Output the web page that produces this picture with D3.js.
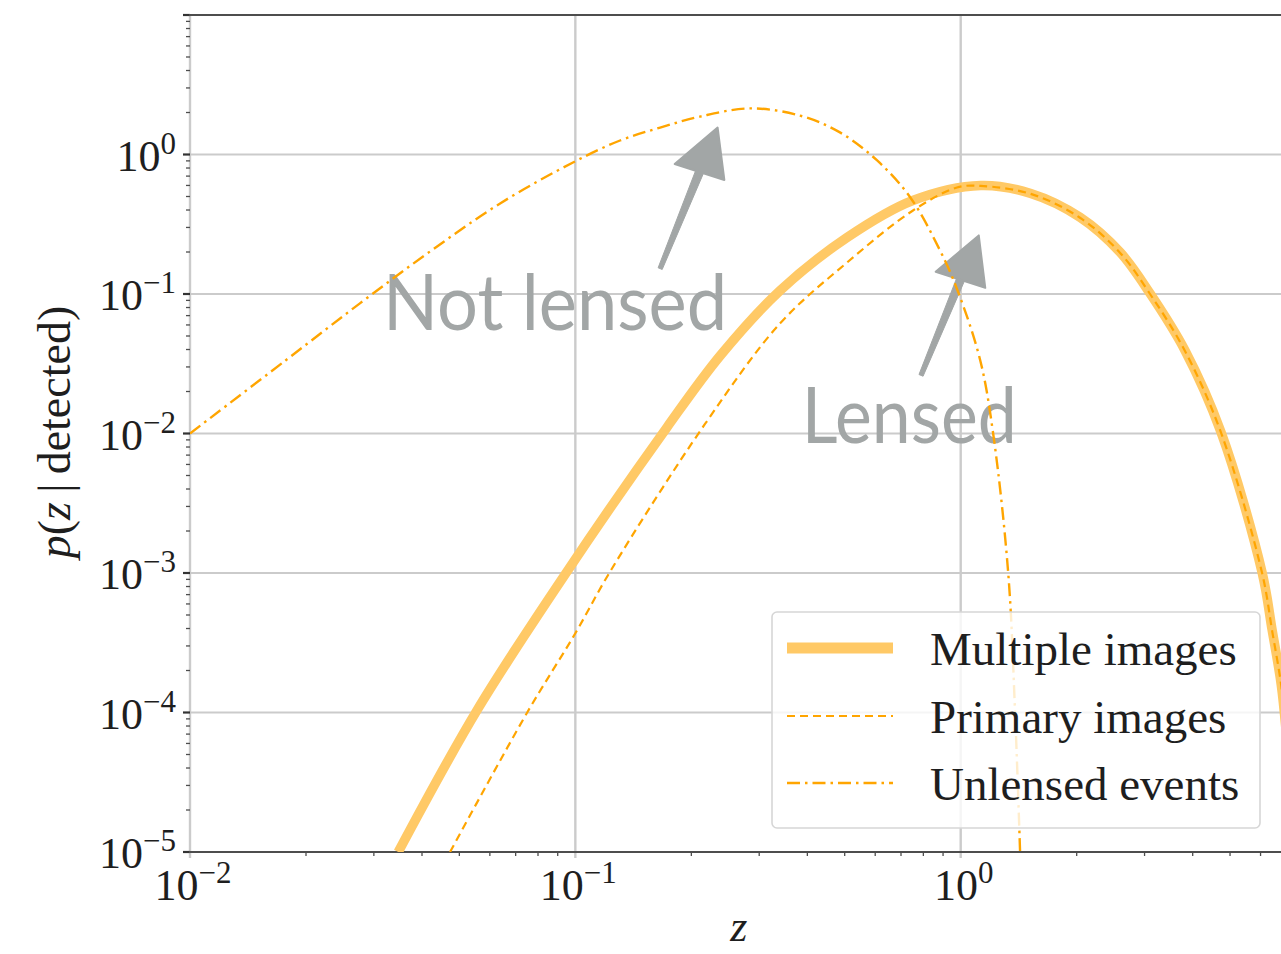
<!DOCTYPE html>
<html>
<head>
<meta charset="utf-8">
<script src="https://cdn.jsdelivr.net/npm/d3@7"></script>
<style>
  html, body { margin: 0; padding: 0; background: #fff; overflow: hidden; }
  svg { display: block; }
</style>
</head>
<body>
<svg id="chart" width="1281" height="954"></svg>
<script>
// ---- redshift distributions p(z | detected) ----
const zMultiple = [0.0347, 0.0556, 0.0957, 0.173, 0.238, 0.34, 0.507, 0.751, 1.127, 1.52, 2.04, 2.593, 3.10, 3.82, 4.74, 6.06, 6.43, 6.79, 7.0];
const pMultiple = [1e-5, 1.04e-4, 1.05e-3, 0.0111, 0.0363, 0.106, 0.254, 0.468, 0.6, 0.526, 0.355, 0.199, 0.101, 0.0394, 0.0102, 1.0e-3, 3.9e-4, 1.58e-4, 7e-5];

const zPrimary = [0.0473, 0.075, 0.1, 0.123, 0.217, 0.34, 0.507, 0.752, 0.978, 1.127, 1.52, 2.04, 2.593, 3.10, 3.82, 4.74, 6.06, 6.43, 6.79, 7.0];
const pPrimary = [1e-5, 1e-4, 3.7e-4, 1.02e-3, 0.0117, 0.0616, 0.168, 0.397, 0.58, 0.595, 0.522, 0.352, 0.197, 0.100, 0.039, 0.0101, 9.9e-4, 3.85e-4, 1.56e-4, 6.9e-5];

const zUnlensed = [0.01, 0.0177, 0.0276, 0.042, 0.0638, 0.0986, 0.1306, 0.166, 0.2107, 0.284, 0.383, 0.486, 0.607, 0.74, 0.884, 0.984, 1.124, 1.214, 1.328, 1.384, 1.426];
const pUnlensed = [0.01, 0.0334, 0.0857, 0.202, 0.446, 0.877, 1.26, 1.56, 1.87, 2.14, 1.9, 1.44, 0.906, 0.492, 0.205, 0.104, 0.0334, 0.01, 1.01e-3, 1e-4, 1e-5];

const seriesNames = ["Multiple images", "Primary images", "Unlensed events"];

// axis decades (labels are 10^exp)
const xTickExps = [-2, -1, 0];
const yTickExps = [-5, -4, -3, -2, -1, 0];

// hand-drawn annotations (data coordinates)
const annotLabels = ["Not lensed", "Lensed"];
const annotTextZ = [0.0317, 0.387];
const annotTextP = [0.0548, 0.0085];
const arrowTailZ = [0.166, 0.789];
const arrowTailP = [0.152, 0.0261];
const arrowTipZ  = [0.234, 1.114];
const arrowTipP  = [1.56, 0.263];

// ---- layout ----
const svg = d3.select("#chart");
const plot = { left: 190, top: 15, right: 1281.5, bottom: 852 };

const x = d3.scaleLog().domain([0.01, 6.8]).range([plot.left, plot.right]);
const y = d3.scaleLog().domain([1e-5, 10]).range([plot.bottom, plot.top]);

const ORANGE = "#ffa500";
const ORANGE_LIGHT = "#ffc966";
const GRID = "#cbcbcb";
const SPINE = "#4d4d4d";
const TEXT = "#1e1e1e";
const ANNOT = "#a2a6a6";
const SERIF = "'Liberation Serif', 'DejaVu Serif', serif";

svg.append("defs").append("clipPath").attr("id", "plotClip")
  .append("rect")
  .attr("x", plot.left).attr("y", plot.top)
  .attr("width", plot.right - plot.left).attr("height", plot.bottom - plot.top);

// ---- grid ----
const grid = svg.append("g");
grid.selectAll("line.vx").data(xTickExps).join("line")
  .attr("x1", d => x(Math.pow(10, d))).attr("x2", d => x(Math.pow(10, d)))
  .attr("y1", plot.top).attr("y2", plot.bottom + 6)
  .attr("stroke", GRID).attr("stroke-width", 2.4);
grid.selectAll("line.hy").data(yTickExps.filter(e => e > -5)).join("line")
  .attr("x1", plot.left).attr("x2", plot.right)
  .attr("y1", d => y(Math.pow(10, d))).attr("y2", d => y(Math.pow(10, d)))
  .attr("stroke", GRID).attr("stroke-width", 2.2);

// ---- minor / major ticks ----
const ticks = svg.append("g");
const xMinor = [];
for (let e = -2; e <= 0; e++) for (let m = 2; m <= 9; m++) {
  const v = m * Math.pow(10, e);
  if (v <= 6.8) xMinor.push(v);
}
ticks.selectAll("line.xm").data(xMinor).join("line")
  .attr("x1", d => x(d)).attr("x2", d => x(d))
  .attr("y1", plot.bottom).attr("y2", plot.bottom + 4)
  .attr("stroke", SPINE).attr("stroke-width", 1.3);

const yMinor = [];
for (let e = -5; e <= 0; e++) for (let m = 2; m <= 9; m++) yMinor.push(m * Math.pow(10, e));
ticks.selectAll("line.ym").data(yMinor).join("line")
  .attr("x1", plot.left - 4).attr("x2", plot.left)
  .attr("y1", d => y(d)).attr("y2", d => y(d))
  .attr("stroke", SPINE).attr("stroke-width", 1.3);

ticks.selectAll("line.yM").data(yTickExps.concat([1])).join("line")
  .attr("x1", plot.left - 7).attr("x2", plot.left)
  .attr("y1", d => y(Math.pow(10, d))).attr("y2", d => y(Math.pow(10, d)))
  .attr("stroke", "#333").attr("stroke-width", 2.2);

// ---- spines ----
svg.append("line").attr("x1", plot.left - 1).attr("x2", plot.right + 2)
  .attr("y1", plot.top).attr("y2", plot.top).attr("stroke", SPINE).attr("stroke-width", 2.2);
svg.append("line").attr("x1", plot.left - 1).attr("x2", plot.right + 2)
  .attr("y1", plot.bottom).attr("y2", plot.bottom).attr("stroke", SPINE).attr("stroke-width", 2.2);

// ---- tick labels (10^n) ----
function powLabel(sel, exp) {
  sel.append("tspan").text("10");
  sel.append("tspan").attr("dy", -17).attr("font-size", 31)
    .text(exp < 0 ? "\u2212" + Math.abs(exp) : String(exp));
}
svg.append("g").selectAll("text").data(yTickExps).join("text")
  .attr("x", 176).attr("y", d => y(Math.pow(10, d)) + 16)
  .attr("text-anchor", "end").attr("font-family", SERIF).attr("font-size", 44).attr("fill", TEXT)
  .each(function (d) { powLabel(d3.select(this), d); });

svg.append("g").selectAll("text").data(xTickExps).join("text")
  .attr("x", d => x(Math.pow(10, d)) + 3).attr("y", 900)
  .attr("text-anchor", "middle").attr("font-family", SERIF).attr("font-size", 44).attr("fill", TEXT)
  .each(function (d) { powLabel(d3.select(this), d); });

// ---- axis titles ----
svg.append("text").attr("x", (plot.left + plot.right) / 2 + 3).attr("y", 941)
  .attr("text-anchor", "middle").attr("font-family", SERIF).attr("font-style", "italic")
  .attr("font-size", 44).attr("fill", TEXT).text("z");

const yTitle = svg.append("text")
  .attr("transform", "translate(70,432) rotate(-90)")
  .attr("text-anchor", "middle").attr("font-family", SERIF).attr("font-size", 46).attr("fill", TEXT);
yTitle.append("tspan").attr("font-style", "italic").text("p");
yTitle.append("tspan").text("(");
yTitle.append("tspan").attr("font-style", "italic").text("z");
yTitle.append("tspan").text("\u2009|\u2009detected)");

// ---- annotation labels (beneath the curves) ----
const annotWidths = [344, 215];
svg.append("g").selectAll("text").data(annotLabels).join("text")
  .attr("x", (d, i) => x(annotTextZ[i])).attr("y", (d, i) => y(annotTextP[i]))
  .attr("font-family", "Lato, 'Open Sans', sans-serif").attr("font-size", 78)
  .attr("fill", ANNOT)
  .attr("textLength", (d, i) => annotWidths[i]).attr("lengthAdjust", "spacingAndGlyphs")
  .text(d => d);

// ---- hand-drawn style arrows ----
const arrows = svg.append("g");
annotLabels.forEach((lab, i) => {
  const tx = x(arrowTailZ[i]), ty = y(arrowTailP[i]);
  const hx = x(arrowTipZ[i]), hy = y(arrowTipP[i]);
  const dx = hx - tx, dy = hy - ty, L = Math.hypot(dx, dy);
  const ux = dx / L, uy = dy / L, nx = -uy, ny = ux;
  const headLen = 48, headHalf = 26;
  const bx = hx - ux * headLen, by = hy - uy * headLen;
  const wTail = 2.2, wHead = 4.2;
  const shaft = [
    [tx + nx * wTail, ty + ny * wTail],
    [bx + ux * 4 + nx * wHead, by + uy * 4 + ny * wHead],
    [bx + ux * 4 - nx * wHead, by + uy * 4 - ny * wHead],
    [tx - nx * wTail, ty - ny * wTail]
  ];
  const head = [
    [hx, hy],
    [bx + nx * headHalf + ux * 2, by + ny * headHalf + uy * 2],
    [bx - nx * headHalf - ux * 2, by - ny * headHalf - uy * 2]
  ];
  arrows.append("polygon").attr("points", shaft.map(p => p.join(",")).join(" "))
    .attr("fill", ANNOT).attr("stroke", ANNOT).attr("stroke-width", 1).attr("stroke-linejoin", "round");
  arrows.append("polygon").attr("points", head.map(p => p.join(",")).join(" "))
    .attr("fill", ANNOT).attr("stroke", ANNOT).attr("stroke-width", 2).attr("stroke-linejoin", "round");
});

// ---- curves ----
const line = d3.line()
  .x(d => x(d[0])).y(d => y(d[1]))
  .curve(d3.curveCatmullRom.alpha(0.5));
const zip = (a, b) => a.map((v, i) => [v, b[i]]);

const curves = svg.append("g").attr("clip-path", "url(#plotClip)");
curves.append("path").datum(zip(zMultiple, pMultiple))
  .attr("d", line).attr("fill", "none")
  .attr("stroke", ORANGE_LIGHT).attr("stroke-width", 9.5).attr("stroke-linecap", "butt");
curves.append("path").datum(zip(zPrimary, pPrimary))
  .attr("d", line).attr("fill", "none")
  .attr("stroke", ORANGE).attr("stroke-width", 2.2).attr("stroke-dasharray", "8,5");
curves.append("path").datum(zip(zUnlensed, pUnlensed))
  .attr("d", line).attr("fill", "none")
  .attr("stroke", ORANGE).attr("stroke-width", 2.4).attr("stroke-dasharray", "13,5,2.5,5");

// ---- legend ----
const legend = svg.append("g");
legend.append("rect")
  .attr("x", 772).attr("y", 612).attr("width", 488).attr("height", 216)
  .attr("rx", 5).attr("ry", 5)
  .attr("fill", "#fff").attr("fill-opacity", 0.8)
  .attr("stroke", "#d6d6d6").attr("stroke-width", 1.6);
const rowY = [648, 716, 783];
const sampleStyle = [
  { stroke: ORANGE_LIGHT, width: 11, dash: null },
  { stroke: ORANGE, width: 2.2, dash: "8,5" },
  { stroke: ORANGE, width: 2.4, dash: "13,5,2.5,5" }
];
seriesNames.forEach((name, i) => {
  const s = sampleStyle[i];
  const l = legend.append("line")
    .attr("x1", 787).attr("x2", 893).attr("y1", rowY[i]).attr("y2", rowY[i])
    .attr("stroke", s.stroke).attr("stroke-width", s.width);
  if (s.dash) l.attr("stroke-dasharray", s.dash);
  legend.append("text").attr("x", 930).attr("y", rowY[i] + 17)
    .attr("font-family", SERIF).attr("font-size", 47).attr("fill", TEXT)
    .text(name);
});
</script>
</body>
</html>
